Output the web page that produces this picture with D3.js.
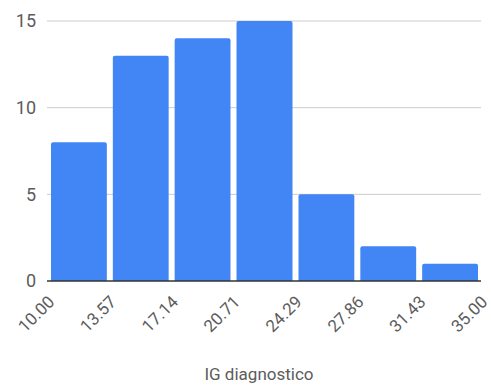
<!DOCTYPE html>
<html>
<head>
<meta charset="utf-8">
<script src="https://cdn.jsdelivr.net/npm/d3@7"></script>
<style>
  html, body { margin: 0; padding: 0; background: #fff; }
  svg { display: block; font-family: Roboto, "Noto Sans", Arial, sans-serif; }
</style>
</head>
<body>
<svg id="chart" width="491" height="387"></svg>
<script>
// Histogram bin edges (IG diagnostico) and counts per bin
const binEdges = [10.00, 13.57, 17.14, 20.71, 24.29, 27.86, 31.43, 35.00];
const binLabels = ["10.00", "13.57", "17.14", "20.71", "24.29", "27.86", "31.43", "35.00"];
const counts = [8, 13, 14, 15, 5, 2, 1];
const yTicks = [0, 5, 10, 15];
const axisTitle = "IG diagnostico";

const svg = d3.select("#chart");
const plotLeft = 48, plotRight = 481, plotTop = 21, plotBottom = 281;
const textColor = "#5c5c5c";

const x = d3.scaleLinear().domain([binEdges[0], binEdges[binEdges.length - 1]]).range([plotLeft, plotRight]);
const y = d3.scaleLinear().domain([0, 15]).range([plotBottom, plotTop]);

// Horizontal gridlines
svg.append("g")
  .selectAll("line")
  .data(yTicks.filter(d => d > 0))
  .join("line")
  .attr("x1", plotLeft - 1).attr("x2", plotRight)
  .attr("y1", d => y(d)).attr("y2", d => y(d))
  .attr("stroke", "#cccccc").attr("stroke-width", 1);

// Y axis labels
const yAxis = d3.axisLeft(y).tickValues(yTicks).tickSize(0).tickPadding(12).tickFormat(d3.format("d"));
svg.append("g")
  .attr("transform", `translate(${plotLeft},0)`)
  .call(yAxis)
  .call(g => g.select(".domain").remove())
  .call(g => g.selectAll("text")
    .attr("font-size", 18).attr("fill", textColor).attr("font-family", "Roboto, sans-serif"));

// Bars
const gap = 3;
svg.append("g")
  .selectAll("path")
  .data(counts.map((c, i) => ({ c, x0: binEdges[i], x1: binEdges[i + 1] })))
  .join("path")
  .attr("fill", "#4285f4")
  .attr("d", d => {
    const x0 = x(d.x0) + gap, x1 = x(d.x1) - gap;
    const y0 = y(d.c), y1 = y(0);
    const r = 2;
    return `M${x0},${y1} V${y0 + r} Q${x0},${y0} ${x0 + r},${y0} H${x1 - r} Q${x1},${y0} ${x1},${y0 + r} V${y1} Z`;
  });

// Baseline
svg.append("line")
  .attr("x1", plotLeft - 1).attr("x2", plotRight)
  .attr("y1", y(0)).attr("y2", y(0))
  .attr("stroke", "#333").attr("stroke-width", 1.5);

// X axis tick labels, rotated
const xAxis = d3.axisBottom(x).tickValues(binEdges).tickSize(0).tickPadding(0)
  .tickFormat((d, i) => binLabels[i]);
svg.append("g")
  .attr("transform", `translate(0,${plotBottom})`)
  .call(xAxis)
  .call(g => g.select(".domain").remove())
  .call(g => g.selectAll("text")
    .attr("font-size", 17).attr("fill", textColor).attr("font-family", "Roboto, sans-serif")
    .attr("text-anchor", "end")
    .attr("dy", null).attr("y", 0)
    .attr("transform", "translate(7,22) rotate(-45)"));

// Axis title
svg.append("text")
  .attr("x", 259).attr("y", 380)
  .attr("text-anchor", "middle")
  .attr("font-size", 17).attr("fill", textColor)
  .attr("font-family", "Roboto, sans-serif")
  .text(axisTitle);
</script>
</body>
</html>
